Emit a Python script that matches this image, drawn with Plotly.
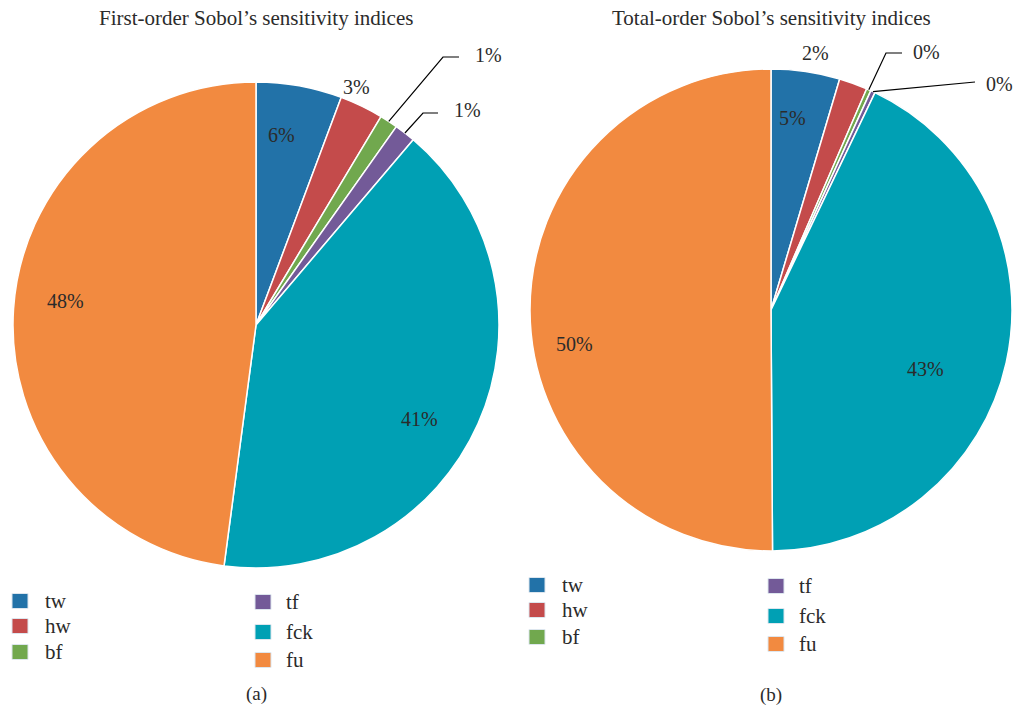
import math
import plotly.graph_objects as go

# ---------------- data ----------------
names = ["tw", "hw", "bf", "tf", "fck", "fu"]
first_order = [5.7, 2.9, 1.2, 1.4, 40.9, 47.9]
total_order = [4.6, 1.9, 0.3, 0.3, 42.8, 50.1]
titles = ["First-order Sobol’s sensitivity indices", "Total-order Sobol’s sensitivity indices"]
panel_tags = ["(a)", "(b)"]

# ---------------- style ----------------
colors = ["#2272a8", "#c44b4b", "#71a84e", "#735a98", "#00a0b4", "#f28a40"]
FONT = "Liberation Serif, Times New Roman, serif"
TXT = "#2b2b2b"
W, H = 1014, 709


def px(x):
    return x / W


def py(y):
    return 1 - y / H


# panel geometry (pixel centre, radius) and label placement
panels = [
    dict(cx=256, cy=325, r=243, vals=first_order,
         labels={
             "tw": dict(pos=(281, 135)),
             "hw": dict(pos=(356, 87)),
             "bf": dict(pos=(473, 55), lead=[(443, 57), (459, 57)]),
             "tf": dict(pos=(452, 110), lead=[(423, 113), (438, 113)]),
             "fck": dict(pos=(419, 419)),
             "fu": dict(pos=(65, 301)),
         },
         legend=dict(col1=(12, 43, [601, 626, 652]), col2=(255, 284, [602, 632, 660])),
         title_y=18, tag_y=694),
    dict(cx=771, cy=310, r=241, vals=total_order,
         labels={
             "tw": dict(pos=(792, 118)),
             "hw": dict(pos=(815, 53)),
             "bf": dict(pos=(911, 52), lead=[(886, 53), (902, 53)]),
             "tf": dict(pos=(984, 84), lead=[(975, 82)]),
             "fck": dict(pos=(925, 369)),
             "fu": dict(pos=(574, 344)),
         },
         legend=dict(col1=(529, 560, [585, 610, 637]), col2=(768, 797, [586, 616, 644])),
         title_y=18, tag_y=695),
]

fig = go.Figure()
annotations = []
shapes = []

for i, p in enumerate(panels):
    cx, cy, r, vals = p["cx"], p["cy"], p["r"], p["vals"]
    fig.add_trace(go.Pie(
        values=vals, labels=names, sort=False, direction="clockwise", rotation=0,
        marker=dict(colors=colors, line=dict(color="white", width=1.5)),
        textinfo="none", hoverinfo="label+percent", showlegend=False,
        domain=dict(x=[px(cx - r), px(cx + r)], y=[py(cy + r), py(cy - r)]),
    ))
    total = sum(vals)
    cum = 0.0
    for name, v in zip(names, vals):
        mid = (cum + v / 2) / total * 2 * math.pi
        cum += v
        lab = p["labels"][name]
        text = f"{round(v / total * 100)}%"
        lx, ly = lab["pos"]
        if "lead" in lab:
            sx = cx + r * math.sin(mid)
            sy = cy - r * math.cos(mid)
            pts = [(sx, sy)] + lab["lead"]
            path = "M " + " L ".join(f"{px(a):.5f},{py(b):.5f}" for a, b in pts)
            shapes.append(dict(type="path", path=path, xref="paper", yref="paper",
                               line=dict(color="black", width=1.2)))
            annotations.append(dict(x=px(lx), y=py(ly), xref="paper", yref="paper",
                                    text=text, showarrow=False, xanchor="left", yanchor="middle",
                                    font=dict(family=FONT, size=20, color=TXT)))
        else:
            annotations.append(dict(x=px(lx), y=py(ly), xref="paper", yref="paper",
                                    text=text, showarrow=False, xanchor="center", yanchor="middle",
                                    font=dict(family=FONT, size=20, color=TXT)))
    # title and tag
    annotations.append(dict(x=px(cx), y=py(p["title_y"]), xref="paper", yref="paper",
                            text=titles[i], showarrow=False, xanchor="center", yanchor="middle",
                            font=dict(family=FONT, size=21, color=TXT)))
    annotations.append(dict(x=px(cx), y=py(p["tag_y"]), xref="paper", yref="paper",
                            text=panel_tags[i], showarrow=False, xanchor="center", yanchor="middle",
                            font=dict(family=FONT, size=19, color=TXT)))
    # legend
    for col, idxs in (("col1", [0, 1, 2]), ("col2", [3, 4, 5])):
        sqx, tx, ys = p["legend"][col]
        for k, yy in zip(idxs, ys):
            shapes.append(dict(type="rect", xref="paper", yref="paper",
                               x0=px(sqx), x1=px(sqx + 16), y0=py(yy + 7.5), y1=py(yy - 7.5),
                               fillcolor=colors[k], line=dict(color="#dde6ee", width=1)))
            annotations.append(dict(x=px(tx), y=py(yy), xref="paper", yref="paper",
                                    text=names[k], showarrow=False, xanchor="left", yanchor="middle",
                                    font=dict(family=FONT, size=21, color=TXT)))

fig.update_layout(
    width=W, height=H, margin=dict(l=0, r=0, t=0, b=0),
    paper_bgcolor="white", plot_bgcolor="white",
    annotations=annotations, shapes=shapes, showlegend=False,
)

fig.write_html("out.html", config={"displayModeBar": False},
               post_script="document.body.style.margin='0px';")
